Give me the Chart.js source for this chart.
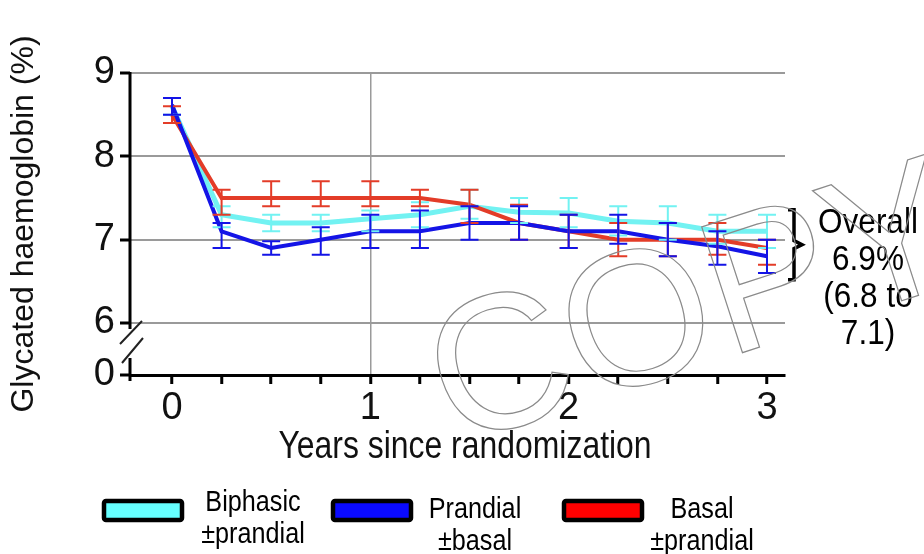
<!DOCTYPE html>
<html>
<head>
<meta charset="utf-8">
<script src="https://cdn.jsdelivr.net/npm/chart.js@4/dist/chart.umd.min.js"></script>
<style>
  html, body { margin: 0; padding: 0; background: #fff; }
  #wrap { width: 924px; height: 554px; }
</style>
</head>
<body>
<div id="wrap"><canvas id="chart" width="924" height="554"></canvas></div>
<script>
// years since randomization, one point every 3 months
const years = [0, 0.25, 0.5, 0.75, 1, 1.25, 1.5, 1.75, 2, 2.25, 2.5, 2.75, 3];

// HbA1c (%) means with lower / upper error bar ends
const biphasic     = [8.6, 7.3, 7.2, 7.2, 7.25, 7.3, 7.4, 7.33, 7.32, 7.22, 7.2, 7.1, 7.1];
const biphasicLow  = [8.5, 7.15, 7.1, 7.1, 7.1, 7.15, 7.25, 7.2, 7.15, 7.05, 7.0, 6.95, 6.9];
const biphasicHigh = [8.7, 7.4, 7.3, 7.3, 7.35, 7.45, 7.6, 7.5, 7.5, 7.4, 7.4, 7.3, 7.3];

const prandial     = [8.62, 7.1, 6.9, 7.0, 7.1, 7.1, 7.2, 7.2, 7.1, 7.1, 7.0, 6.92, 6.8];
const prandialLow  = [8.5, 6.9, 6.82, 6.82, 6.9, 6.9, 7.0, 7.0, 6.9, 6.95, 6.8, 6.7, 6.6];
const prandialHigh = [8.7, 7.2, 6.98, 7.15, 7.3, 7.35, 7.4, 7.4, 7.3, 7.3, 7.2, 7.1, 7.0];

const basal        = [8.5, 7.5, 7.5, 7.5, 7.5, 7.5, 7.42, 7.2, 7.1, 7.0, 7.0, 7.0, 6.9];
const basalLow     = [8.4, 7.3, 7.4, 7.4, 7.4, 7.4, 7.2, 7.0, 6.9, 6.8, 6.8, 6.82, 6.7];
const basalHigh    = [8.6, 7.6, 7.7, 7.7, 7.7, 7.6, 7.6, 7.42, 7.3, 7.2, 7.2, 7.2, 7.0];

const seriesNames = [["Biphasic", "±prandial"], ["Prandial", "±basal"], ["Basal", "±prandial"]];

// axis: broken y axis, the bottom tick stands for 0
const yBreak = 5.376;
const yTicks = [yBreak, 6, 7, 8, 9];
const yTickLabels = ["0", "6", "7", "8", "9"];
const xTicks = [0, 0.25, 0.5, 0.75, 1, 1.25, 1.5, 1.75, 2, 2.25, 2.5, 2.75, 3];
const xTitle = "Years since randomization";

const overallNote = ["Overall", "6.9%", "(6.8 to", "7.1)"];

const CYAN = "#72f2f2";
const BLUE = "#1414e6";
const RED = "#e33c28";
const FONT = "'Liberation Sans', Arial, sans-serif";

function pts(vals) {
  return years.map((t, i) => ({ x: t, y: vals[i] }));
}

// text squeezed sideways, the source figure uses a narrow face
function narrowText(ctx, text, x, y, sx) {
  ctx.save();
  ctx.translate(x, y);
  ctx.scale(sx, 1);
  ctx.fillText(text, 0, 0);
  ctx.restore();
}

const errorBars = {
  id: "errorBars",
  afterDatasetsDraw(chart) {
    const { ctx, scales: { x, y } } = chart;
    [0, 2, 1].forEach(di => {
      const ds = chart.data.datasets[di];
      ctx.save();
      ctx.strokeStyle = ds.borderColor;
      ctx.lineWidth = 2;
      ds.errLow.forEach((lo, i) => {
        const px = x.getPixelForValue(years[i]);
        const p1 = y.getPixelForValue(lo);
        const p2 = y.getPixelForValue(ds.errHigh[i]);
        ctx.beginPath();
        ctx.moveTo(px, p1); ctx.lineTo(px, p2);
        ctx.moveTo(px - 9, p1); ctx.lineTo(px + 9, p1);
        ctx.moveTo(px - 9, p2); ctx.lineTo(px + 9, p2);
        ctx.stroke();
      });
      ctx.restore();
    });
  }
};

const extras = {
  id: "extras",
  afterDraw(chart) {
    const { ctx, chartArea, scales: { y } } = chart;
    const left = chartArea.left;
    const y9 = y.getPixelForValue(9);
    const y6 = y.getPixelForValue(6);
    const y0 = y.getPixelForValue(yBreak);
    ctx.save();
    // broken y axis
    ctx.strokeStyle = "#000";
    ctx.lineWidth = 3;
    ctx.beginPath();
    ctx.moveTo(left, y9 - 1); ctx.lineTo(left, y6 + 6);
    ctx.moveTo(left, y0 - 17); ctx.lineTo(left, y0 + 6);
    ctx.stroke();
    const mid = (y6 + y0) / 2;
    ctx.lineWidth = 2;
    ctx.strokeStyle = "#222";
    ctx.beginPath();
    ctx.moveTo(left - 10, mid - 5); ctx.lineTo(left + 12, mid - 28);
    ctx.moveTo(left - 8, mid + 14); ctx.lineTo(left + 13, mid - 11);
    ctx.stroke();

    // x axis title
    ctx.fillStyle = "#111";
    ctx.textAlign = "center";
    ctx.textBaseline = "middle";
    ctx.font = "38px " + FONT;
    narrowText(ctx, xTitle, 465, 448, 0.84);

    // brace and overall note
    const bx = chartArea.right + 9;
    const bt = y.getPixelForValue(7.36);
    const bb = y.getPixelForValue(6.52);
    const bm = (bt + bb) / 2;
    ctx.lineWidth = 3.5;
    ctx.strokeStyle = "#000";
    ctx.beginPath();
    ctx.moveTo(bx - 6, bt); ctx.lineTo(bx, bt); ctx.lineTo(bx, bm - 4);
    ctx.lineTo(bx + 8, bm); ctx.lineTo(bx, bm + 4); ctx.lineTo(bx, bb);
    ctx.lineTo(bx - 6, bb);
    ctx.stroke();
    ctx.fillStyle = "#000";
    ctx.font = "35px " + FONT;
    overallNote.forEach((t, i) => narrowText(ctx, t, 868, 223 + i * 37, 0.9));

    // legend
    const legendX = [143, 372, 603];
    const textX = [253, 475, 702];
    chart.data.datasets.forEach((ds, i) => {
      ctx.fillStyle = ds.legendFill;
      ctx.strokeStyle = "#000";
      ctx.lineWidth = 4.5;
      ctx.beginPath();
      ctx.roundRect(legendX[i] - 39, 501, 78, 19, 2);
      ctx.fill();
      ctx.stroke();
      ctx.fillStyle = "#000";
      ctx.font = "30px " + FONT;
      const top = i === 0 ? 503 : 510;
      seriesNames[i].forEach((t, k) => narrowText(ctx, t, textX[i], top + k * 32, 0.84));
    });

    // COPY watermark
    ctx.translate(696, 312);
    ctx.rotate(-18 * Math.PI / 180);
    ctx.font = "192px " + FONT;
    ctx.strokeStyle = "#8a8a8a";
    ctx.lineWidth = 1.2;
    ctx.strokeText("COPY", 0, 0);
    ctx.restore();
  }
};

new Chart(document.getElementById("chart"), {
  type: "line",
  data: {
    datasets: [
      {
        label: seriesNames[0].join(" "),
        data: pts(biphasic),
        errLow: biphasicLow,
        errHigh: biphasicHigh,
        borderColor: CYAN,
        legendFill: "#66ffff",
        borderWidth: 5,
        order: 3,
      },
      {
        label: seriesNames[1].join(" "),
        data: pts(prandial),
        errLow: prandialLow,
        errHigh: prandialHigh,
        borderColor: BLUE,
        legendFill: "#0a0aff",
        borderWidth: 4,
        order: 1,
      },
      {
        label: seriesNames[2].join(" "),
        data: pts(basal),
        errLow: basalLow,
        errHigh: basalHigh,
        borderColor: RED,
        legendFill: "#ff0000",
        borderWidth: 4,
        order: 2,
      },
    ],
  },
  options: {
    responsive: false,
    animation: false,
    devicePixelRatio: 1,
    elements: { point: { radius: 0 }, line: { tension: 0 } },
    layout: { padding: { top: 73, right: 139, bottom: 79, left: 0 } },
    plugins: {
      legend: { display: false },
      tooltip: { enabled: false },
    },
    scales: {
      x: {
        type: "linear",
        min: -0.2118,
        max: 3.0908,
        afterBuildTicks: s => { s.ticks = xTicks.map(v => ({ value: v })); },
        afterFit: s => { s.height = 100; },
        ticks: {
          autoSkip: false,
          maxRotation: 0,
          padding: 2,
          color: "#111",
          font: { family: FONT, size: 38 },
          callback: v => (Number.isInteger(v) ? String(v) : ""),
        },
        grid: {
          color: c => (c.tick && c.tick.value === 1 ? "#9a9a9a" : "rgba(0,0,0,0)"),
          lineWidth: 1.5,
          tickColor: "#000",
          tickWidth: 3,
          tickLength: 9,
        },
        border: { color: "#000", width: 3 },
        title: { display: false },
      },
      y: {
        type: "linear",
        min: yBreak,
        max: 9,
        afterBuildTicks: s => { s.ticks = yTicks.map(v => ({ value: v })); },
        afterFit: s => { s.width = 130; },
        ticks: {
          padding: 5,
          color: "#111",
          font: { family: FONT, size: 38 },
          callback: (v, i) => yTickLabels[i],
        },
        grid: {
          color: c => (c.tick && c.tick.value === yBreak ? "rgba(0,0,0,0)" : "#9a9a9a"),
          lineWidth: 2,
          tickColor: "#000",
          tickWidth: 3,
          tickLength: 10,
        },
        border: { display: false },
        title: {
          display: true,
          text: "Glycated haemoglobin (%)",
          color: "#111",
          font: { family: FONT, size: 32 },
          padding: { top: 5, bottom: 0 },
        },
      },
    },
  },
  plugins: [errorBars, extras],
});
</script>
</body>
</html>
